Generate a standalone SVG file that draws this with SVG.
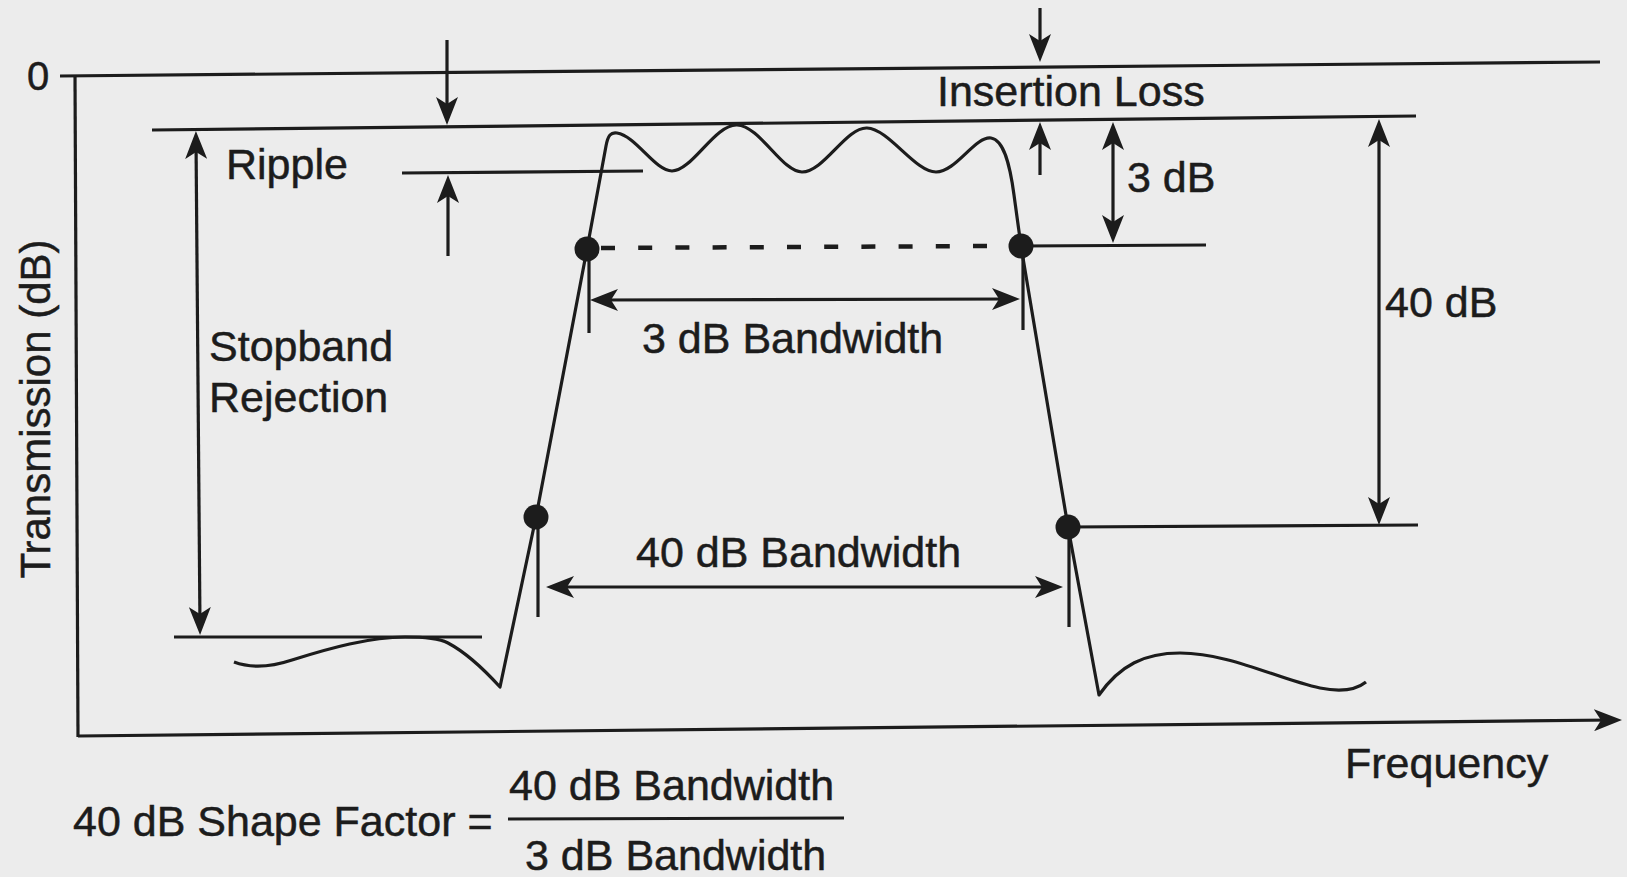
<svg xmlns="http://www.w3.org/2000/svg" width="1627" height="877" viewBox="0 0 1627 877">
<defs>
<style>
.ln{stroke:#1c1c1c;stroke-width:3.2;fill:none;stroke-linecap:butt;stroke-linejoin:round}
.dash{stroke-dasharray:14 23.2;stroke-width:4.5}
.t{font-family:"Liberation Sans",Arial,Helvetica,sans-serif;font-size:43px;fill:#1c1c1c;stroke:#1c1c1c;stroke-width:0.5}
.dot{fill:#1c1c1c}
.arr{marker-end:url(#ah)}
.arr2{marker-start:url(#ah);marker-end:url(#ah)}
</style>
<marker id="ah" markerUnits="userSpaceOnUse" viewBox="0 0 28 22" refX="20" refY="11" markerWidth="28" markerHeight="22" orient="auto-start-reverse">
<path d="M0,0 L28,11 L0,22 L7,11 Z" fill="#1c1c1c"/>
</marker>
</defs>
<rect width="1627" height="877" fill="#ececec"/>

<g id="axes">
<path class="ln" d="M75,76 L78,737"/>
<path class="ln arr" d="M78,736 L1614,720"/>
<text class="t" x="27" y="90" style="font-size:40px">0</text>
<text class="t" transform="translate(50,409) rotate(-90)" text-anchor="middle" style="font-size:42px">Transmission (dB)</text>
<text class="t" x="1345" y="778">Frequency</text>
</g>

<g id="reference-lines">
<path class="ln" d="M60,76 L1600,62"/>
<path class="ln" d="M152,130 L1416,116"/>
<path class="ln" d="M402,173 L643,171"/>
<path class="ln" d="M1021,246 L1206,245"/>
<path class="ln" d="M1068,527 L1418,525"/>
<path class="ln" d="M174,637 L482,637"/>
<path class="ln dash" d="M601,248 L990,246"/>
<path class="ln" d="M589,249 L589,333"/>
<path class="ln" d="M1023,246 L1023,330"/>
<path class="ln" d="M538,517 L538,617"/>
<path class="ln" d="M1069,527 L1069,627"/>
</g>

<g id="response-curve">
<path class="ln" d="M234,662 C250,668 268,668 292,660 C330,648 370,637 405,637 C425,637 438,638 448,643 C465,652 480,665 500,687 L536,517 L587,249 L606,146 C608,135 611,132 617,133 C636,136 655,171 672,171 C692,171 715,124 737,125 C760,126 782,172 802,172 C824,172 846,127 867,128 C889,129 915,172 936,172 C956,172 975,136 991,138 C1004,140 1010,165 1014,195 L1021,246 L1068,527 L1099,695 C1120,665 1145,653 1180,653 C1230,653 1280,680 1320,688 C1340,692 1356,690 1366,682"/>
<circle class="dot" cx="587" cy="249" r="12.5"/>
<circle class="dot" cx="1021" cy="246" r="12.5"/>
<circle class="dot" cx="536" cy="517" r="12.5"/>
<circle class="dot" cx="1068" cy="527" r="12.5"/>
</g>

<g id="connectors">
<path class="ln arr" d="M447,40 L447,117"/>
<path class="ln arr" d="M448,256 L448,183"/>
<path class="ln arr" d="M1040,8 L1040,54"/>
<path class="ln arr" d="M1040,175 L1040,130"/>
<path class="ln arr2" d="M1113,130 L1113,235"/>
<path class="ln arr2" d="M1379,127 L1379,517"/>
<path class="ln arr2" d="M196,139 L200,627"/>
<path class="ln arr2" d="M598,300 L1012,299"/>
<path class="ln arr2" d="M554,587 L1055,587"/>
</g>

<g id="label-insertion-loss"><text class="t" x="937" y="106">Insertion Loss</text></g>
<g id="label-ripple"><text class="t" x="226" y="179">Ripple</text></g>
<g id="label-3db"><text class="t" x="1127" y="192">3 dB</text></g>
<g id="label-40db"><text class="t" x="1385" y="317">40 dB</text></g>
<g id="label-stopband"><text class="t" x="209" y="361">Stopband</text><text class="t" x="209" y="412">Rejection</text></g>
<g id="label-3db-bw"><text class="t" x="642" y="353">3 dB Bandwidth</text></g>
<g id="label-40db-bw"><text class="t" x="636" y="567">40 dB Bandwidth</text></g>

<g id="formula">
<text class="t" x="73" y="836">40 dB Shape Factor =</text>
<text class="t" x="509" y="800">40 dB Bandwidth</text>
<path class="ln" d="M508,819 L844,818"/>
<text class="t" x="525" y="870">3 dB Bandwidth</text>
</g>
</svg>
